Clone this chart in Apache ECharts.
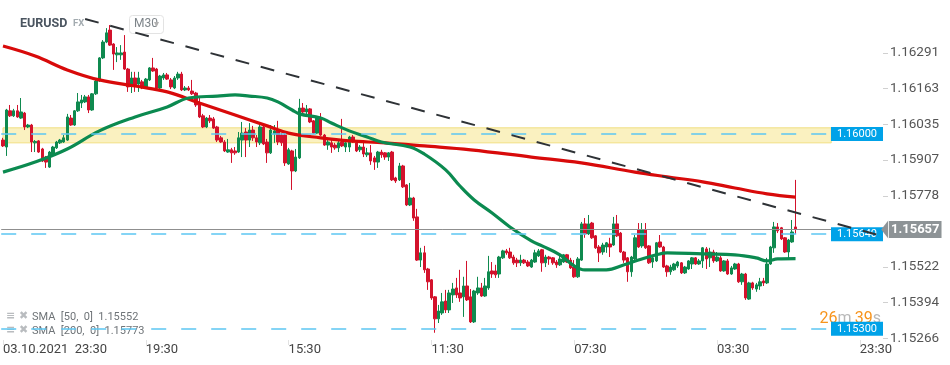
<!DOCTYPE html>
<html><head><meta charset="utf-8">
<script src="https://cdn.jsdelivr.net/npm/echarts@6/dist/echarts.min.js"></script>
<style>html,body{margin:0;padding:0;background:#fff}#c{width:950px;height:365px}</style>
</head><body><div id="c"></div>
<script>
// ---- data ----
const tickLabels = ['03.10.2021  23:30', '19:30', '15:30', '11:30', '07:30', '03:30', '23:30'];
const tickIndex = [0, 40, 80, 120, 160, 200, 240];
const categoryCount = 247;
const yTicks = [1.15266, 1.15394, 1.15522, 1.15778, 1.15907, 1.16035, 1.16163, 1.16291];
const yMin = 1.15260, yMax = 1.16481;

// [open, close, low, high]
const candles = [
[1.15978,1.15957,1.15953,1.15986],[1.15953,1.16086,1.15921,1.16090],[1.16083,1.16065,1.16061,1.16104],[1.16065,1.16083,1.16061,1.16090],
[1.16083,1.16061,1.16058,1.16104],[1.16057,1.16079,1.16054,1.16129],[1.16075,1.16025,1.16014,1.16079],[1.16025,1.16032,1.16021,1.16036],
[1.16032,1.15971,1.15935,1.16036],[1.15968,1.15973,1.15935,1.15978],[1.15975,1.15935,1.15932,1.15978],[1.15946,1.15903,1.15899,1.15950],
[1.15917,1.15899,1.15878,1.15921],[1.15881,1.15935,1.15878,1.15939],[1.15925,1.15953,1.15921,1.15957],[1.15950,1.15971,1.15946,1.15975],
[1.15968,1.15978,1.15964,1.15982],[1.15971,1.15986,1.15968,1.15996],[1.15978,1.16061,1.15975,1.16072],[1.16057,1.16032,1.16029,1.16068],
[1.16032,1.16083,1.16029,1.16086],[1.16083,1.16115,1.16079,1.16147],[1.16111,1.16122,1.16093,1.16140],[1.16115,1.16133,1.16111,1.16140],
[1.16133,1.16086,1.16075,1.16140],[1.16086,1.16144,1.16083,1.16147],[1.16144,1.16190,1.16140,1.16194],[1.16190,1.16273,1.16187,1.16276],
[1.16273,1.16330,1.16269,1.16337],[1.16330,1.16363,1.16326,1.16380],[1.16373,1.16319,1.16316,1.16391],[1.16323,1.16287,1.16230,1.16326],
[1.16284,1.16291,1.16258,1.16312],[1.16284,1.16291,1.16266,1.16319],[1.16294,1.16233,1.16230,1.16355],[1.16233,1.16169,1.16151,1.16237],
[1.16176,1.16201,1.16147,1.16223],[1.16201,1.16176,1.16151,1.16223],[1.16179,1.16201,1.16151,1.16223],[1.16187,1.16165,1.16161,1.16194],
[1.16169,1.16197,1.16165,1.16201],[1.16194,1.16237,1.16190,1.16240],[1.16237,1.16226,1.16223,1.16273],[1.16233,1.16165,1.16161,1.16237],
[1.16165,1.16208,1.16161,1.16212],[1.16201,1.16212,1.16194,1.16219],[1.16212,1.16197,1.16194,1.16219],[1.16194,1.16169,1.16161,1.16201],
[1.16165,1.16201,1.16161,1.16208],[1.16201,1.16215,1.16194,1.16223],[1.16215,1.16158,1.16154,1.16223],[1.16158,1.16165,1.16154,1.16172],
[1.16165,1.16158,1.16154,1.16172],[1.16154,1.16144,1.16140,1.16194],[1.16147,1.16104,1.16097,1.16151],[1.16111,1.16061,1.16057,1.16129],
[1.16065,1.16025,1.16021,1.16072],[1.16025,1.16057,1.16021,1.16061],[1.16057,1.16047,1.16039,1.16068],[1.16054,1.16021,1.16018,1.16061],
[1.16025,1.15978,1.15971,1.16029],[1.15986,1.15971,1.15968,1.15993],[1.15971,1.15939,1.15935,1.15978],[1.15935,1.15943,1.15932,1.15982],
[1.15943,1.15932,1.15896,1.15950],[1.15939,1.15932,1.15925,1.15953],[1.15935,1.15986,1.15932,1.16007],[1.15978,1.16003,1.15917,1.16043],
[1.16007,1.15978,1.15917,1.16021],[1.15978,1.16014,1.15953,1.16039],[1.16014,1.15986,1.15975,1.16029],[1.15986,1.15971,1.15953,1.15996],
[1.15968,1.16025,1.15960,1.16036],[1.16025,1.15964,1.15960,1.16039],[1.15971,1.15932,1.15896,1.15982],[1.15932,1.16014,1.15928,1.16032],
[1.16000,1.16011,1.15968,1.16032],[1.16014,1.15971,1.15960,1.16047],[1.15996,1.15968,1.15957,1.16003],[1.15996,1.15896,1.15885,1.16000],
[1.15892,1.15943,1.15889,1.15950],[1.15939,1.15867,1.15799,1.15943],[1.15867,1.15917,1.15863,1.15946],[1.15914,1.16093,1.15910,1.16126],
[1.16093,1.16079,1.16075,1.16111],[1.16079,1.16090,1.16061,1.16104],[1.16090,1.16043,1.16039,1.16093],[1.16047,1.16003,1.16000,1.16050],
[1.16003,1.16057,1.16000,1.16061],[1.16057,1.15996,1.15993,1.16075],[1.15996,1.15960,1.15957,1.16000],[1.15960,1.15971,1.15943,1.15978],
[1.15968,1.15953,1.15932,1.15978],[1.15960,1.15950,1.15943,1.15968],[1.15950,1.15968,1.15935,1.15975],[1.15971,1.15957,1.15953,1.16054],
[1.15953,1.15968,1.15935,1.15975],[1.15953,1.15989,1.15935,1.15993],[1.15989,1.15971,1.15968,1.15996],[1.15968,1.15939,1.15935,1.15971],
[1.15943,1.15953,1.15935,1.15960],[1.15953,1.15928,1.15917,1.15968],[1.15925,1.15932,1.15917,1.15950],[1.15932,1.15903,1.15889,1.15960],
[1.15914,1.15899,1.15871,1.15921],[1.15899,1.15935,1.15878,1.15939],[1.15935,1.15925,1.15914,1.15943],[1.15932,1.15917,1.15907,1.15935],
[1.15917,1.15932,1.15903,1.15935],[1.15935,1.15835,1.15831,1.15939],[1.15842,1.15831,1.15824,1.15846],[1.15835,1.15885,1.15831,1.15896],
[1.15885,1.15810,1.15806,1.15889],[1.15817,1.15745,1.15741,1.15820],[1.15745,1.15770,1.15741,1.15824],[1.15770,1.15698,1.15688,1.15774],
[1.15702,1.15547,1.15544,1.15731],[1.15547,1.15573,1.15522,1.15591],[1.15573,1.15512,1.15501,1.15598],[1.15515,1.15469,1.15440,1.15519],
[1.15476,1.15411,1.15404,1.15479],[1.15415,1.15336,1.15286,1.15418],[1.15336,1.15364,1.15321,1.15386],[1.15357,1.15397,1.15350,1.15429],
[1.15400,1.15368,1.15357,1.15440],[1.15368,1.15429,1.15357,1.15440],[1.15422,1.15443,1.15393,1.15465],[1.15447,1.15422,1.15411,1.15483],
[1.15429,1.15411,1.15397,1.15512],[1.15415,1.15454,1.15343,1.15487],[1.15454,1.15404,1.15400,1.15544],[1.15415,1.15325,1.15321,1.15443],
[1.15325,1.15436,1.15321,1.15440],[1.15429,1.15447,1.15422,1.15487],[1.15447,1.15418,1.15415,1.15465],[1.15418,1.15454,1.15415,1.15483],
[1.15447,1.15505,1.15440,1.15562],[1.15508,1.15497,1.15483,1.15540],[1.15508,1.15494,1.15483,1.15530],[1.15497,1.15558,1.15483,1.15562],
[1.15555,1.15580,1.15551,1.15584],[1.15580,1.15573,1.15566,1.15587],[1.15576,1.15555,1.15551,1.15591],[1.15558,1.15537,1.15530,1.15566],
[1.15547,1.15537,1.15522,1.15555],[1.15537,1.15547,1.15526,1.15566],[1.15547,1.15537,1.15533,1.15551],[1.15540,1.15526,1.15522,1.15547],
[1.15522,1.15547,1.15519,1.15551],[1.15540,1.15573,1.15537,1.15584],[1.15562,1.15580,1.15558,1.15587],[1.15584,1.15537,1.15505,1.15587],
[1.15537,1.15558,1.15522,1.15566],[1.15558,1.15551,1.15530,1.15562],[1.15555,1.15537,1.15530,1.15558],[1.15540,1.15530,1.15519,1.15547],
[1.15530,1.15551,1.15526,1.15562],[1.15540,1.15566,1.15537,1.15569],[1.15566,1.15540,1.15537,1.15569],[1.15547,1.15519,1.15515,1.15555],
[1.15522,1.15487,1.15483,1.15547],[1.15487,1.15551,1.15483,1.15558],[1.15547,1.15677,1.15544,1.15684],[1.15677,1.15641,1.15627,1.15698],
[1.15641,1.15677,1.15637,1.15709],[1.15680,1.15627,1.15623,1.15684],[1.15634,1.15591,1.15587,1.15637],[1.15594,1.15573,1.15540,1.15601],
[1.15576,1.15601,1.15566,1.15609],[1.15594,1.15609,1.15573,1.15612],[1.15605,1.15594,1.15558,1.15627],[1.15601,1.15677,1.15598,1.15702],
[1.15677,1.15634,1.15630,1.15709],[1.15644,1.15576,1.15573,1.15648],[1.15576,1.15547,1.15537,1.15580],[1.15555,1.15505,1.15469,1.15558],
[1.15505,1.15558,1.15487,1.15562],[1.15551,1.15627,1.15544,1.15637],[1.15655,1.15594,1.15591,1.15680],[1.15598,1.15655,1.15591,1.15680],
[1.15655,1.15591,1.15587,1.15680],[1.15598,1.15537,1.15533,1.15601],[1.15540,1.15555,1.15519,1.15562],[1.15544,1.15609,1.15540,1.15612],
[1.15612,1.15594,1.15591,1.15637],[1.15594,1.15522,1.15519,1.15598],[1.15526,1.15505,1.15487,1.15530],[1.15505,1.15522,1.15494,1.15530],
[1.15512,1.15533,1.15508,1.15537],[1.15526,1.15540,1.15519,1.15544],[1.15537,1.15501,1.15497,1.15540],[1.15501,1.15522,1.15497,1.15526],
[1.15515,1.15544,1.15512,1.15547],[1.15533,1.15555,1.15515,1.15558],[1.15555,1.15533,1.15530,1.15558],[1.15533,1.15544,1.15530,1.15551],
[1.15544,1.15591,1.15519,1.15594],[1.15587,1.15551,1.15515,1.15594],[1.15555,1.15576,1.15522,1.15591],[1.15576,1.15544,1.15537,1.15584],
[1.15544,1.15558,1.15540,1.15576],[1.15555,1.15508,1.15505,1.15562],[1.15508,1.15544,1.15505,1.15547],[1.15544,1.15497,1.15494,1.15551],
[1.15497,1.15519,1.15494,1.15526],[1.15515,1.15533,1.15512,1.15537],[1.15533,1.15469,1.15465,1.15537],[1.15469,1.15497,1.15458,1.15501],
[1.15497,1.15411,1.15404,1.15501],[1.15407,1.15465,1.15404,1.15469],[1.15465,1.15447,1.15440,1.15469],[1.15443,1.15458,1.15433,1.15465],
[1.15454,1.15469,1.15440,1.15483],[1.15472,1.15465,1.15454,1.15483],[1.15465,1.15533,1.15461,1.15555],[1.15533,1.15594,1.15530,1.15598],
[1.15591,1.15666,1.15573,1.15684],[1.15666,1.15652,1.15644,1.15680],[1.15663,1.15623,1.15619,1.15666],[1.15627,1.15576,1.15573,1.15630],
[1.15576,1.15619,1.15551,1.15623],[1.15612,1.15648,1.15609,1.15691],[1.15666,1.15657,1.15641,1.15835]
];

// moving averages: [bar index, value]
const sma50 = [[0,1.15863],[9,1.15899],[18,1.15946],[27,1.16011],[37,1.16061],[46,1.16097],[52,1.16129],[60,1.16136],[65,1.16140],[69,1.16136],
[74,1.16129],[77,1.16115],[81,1.16086],[83,1.16072],[89,1.16057],[92,1.16039],[97,1.16011],[102,1.15989],[106,1.15971],[114,1.15953],[118,1.15928],
[124,1.15871],[128,1.15813],[132,1.15763],[137,1.15716],[142,1.15666],[148,1.15616],[151,1.15598],[156,1.15566],[160,1.15526],[163,1.15512],
[169,1.15512],[174,1.15530],[178,1.15547],[183,1.15566],[186,1.15573],[196,1.15569],[205,1.15566],[211,1.15555],[214,1.15544],[217,1.15551],[222,1.15552]];
const sma200 = [[0,1.16316],[9,1.16280],[18,1.16230],[27,1.16194],[37,1.16172],[46,1.16151],[55,1.16111],[65,1.16068],[74,1.16029],[80,1.16003],
[89,1.15986],[97,1.15975],[107,1.15968],[118,1.15957],[131,1.15943],[148,1.15917],[162,1.15896],[177,1.15863],[186,1.15846],[196,1.15828],
[205,1.15806],[214,1.15785],[222,1.15773]];
const trendLine = [[23,1.16413],[246,1.15634]];
const zoneBand = [1.15968, 1.16022];
const zoneLevel = 1.16000;
const levels = [1.15640, 1.15300];
const lastPrice = 1.15657;
const sma50Last = '1.15552', sma200Last = '1.15773';

// ---- chart ----
const categories = [];
for (let i = 0; i < categoryCount; i++) categories.push(String(i));
const showTick = (i) => tickIndex.indexOf(i) >= 0;
const FONT = 'Roboto, "Open Sans", sans-serif';
const BLUE = '#00a2e8';
const blueLine = { color: '#5cc6f2', type: [15, 15], width: 1.5 };
const blueLabel = {
  show: true, position: 'insideEnd', distance: 0, formatter: (p) => Number(p.value).toFixed(5),
  backgroundColor: BLUE, color: '#fff', fontSize: 11, fontFamily: FONT, padding: [2, 6, 1, 6]
};

const levelItems = [zoneLevel].concat(levels).map(v => ({ yAxis: v, lineStyle: blueLine, label: blueLabel }));
levelItems.push({
  yAxis: lastPrice,
  lineStyle: { color: '#8f8f8f', type: 'solid', width: 1 },
  label: {
    show: true, position: 'end', distance: 6, formatter: (p) => Number(p.value).toFixed(5),
    backgroundColor: '#8d9396', color: '#fff', fontSize: 13, fontWeight: 'bold', fontFamily: FONT,
    padding: [2, 2, 1, 2], lineHeight: 14
  }
});

const chart = echarts.init(document.getElementById('c'), null, { renderer: 'canvas' });
chart.setOption({
  animation: false,
  backgroundColor: '#fff',
  grid: { left: 0, right: 67, top: 0, bottom: 25 },
  xAxis: {
    type: 'category', data: categories, boundaryGap: true,
    axisLine: { show: false },
    axisTick: { show: true, interval: (i) => showTick(i), alignWithLabel: true, length: 5, lineStyle: { color: '#e2e2e2' } },
    axisLabel: {
      interval: (i) => showTick(i), align: 'left', margin: 3, color: '#444', fontSize: 13, fontFamily: FONT,
      formatter: (v, i) => tickLabels[tickIndex.indexOf(i)] || ''
    },
    splitLine: { show: false }
  },
  yAxis: {
    type: 'value', position: 'right', min: yMin, max: yMax, scale: true,
    axisLine: { show: false },
    axisTick: { show: true, customValues: yTicks, length: 5, lineStyle: { color: '#d0d0d0' } },
    axisLabel: { customValues: yTicks, formatter: (v) => v.toFixed(5), color: '#555', fontSize: 13.5, fontFamily: FONT, margin: 7 },
    splitLine: { show: false }
  },
  series: [
    {
      name: 'EURUSD', type: 'candlestick', data: candles, z: 2, barWidth: 3,
      itemStyle: { color: '#0f8a4f', color0: '#d3122c', borderColor: '#0f8a4f', borderColor0: '#d3122c', borderWidth: 1 },
      markLine: { silent: true, symbol: 'none', animation: false, precision: 5, data: levelItems }
    },
    {
      name: 'SMA 200', type: 'line', data: sma200, smooth: 0.4, showSymbol: false, z: 3,
      lineStyle: { color: '#d80a0a', width: 3.2 }
    },
    {
      name: 'SMA 50', type: 'line', data: sma50, smooth: 0.4, showSymbol: false, z: 3,
      lineStyle: { color: '#0b8a50', width: 3.2 }
    },
    {
      name: 'zone', type: 'line', data: [], z: 5, silent: true,
      markArea: {
        silent: true,
        itemStyle: { color: 'rgba(246,232,150,0.6)', borderColor: 'rgba(238,220,120,0.9)', borderWidth: 1 },
        data: [[{ xAxis: 0, yAxis: zoneBand[1] }, { xAxis: 232, yAxis: zoneBand[0] }]]
      }
    },
    {
      name: 'trend', type: 'line', data: trendLine, showSymbol: false, z: 7, silent: true,
      lineStyle: { color: '#2e3236', width: 2, type: [14, 12] }
    }
  ],
  graphic: [
    { type: 'text', left: 20, top: 17, style: { text: 'EURUSD', fill: '#4b5560', font: 'bold 12.5px ' + FONT } },
    { type: 'text', left: 73, top: 19, style: { text: 'FX', fill: '#a3abb0', font: 'bold 9.5px ' + FONT } },
    { type: 'rect', left: 129, top: 15, shape: { width: 34, height: 18, r: 3 }, style: { fill: '#fff', stroke: '#e3e3e3', lineWidth: 1 } },
    { type: 'text', left: 134, top: 18, style: { text: 'M30', fill: '#7d8489', font: '12px ' + FONT } },
    { type: 'text', left: 154, top: 19, style: { text: '▾', fill: '#b0b0b0', font: '10px DejaVu Sans' } },
    { type: 'text', left: 6, top: 311, style: { text: '≡ ✖', fill: '#b9bcbf', font: 'bold 11px DejaVu Sans' } },
    { type: 'text', left: 32, top: 312, style: { text: 'SMA  [50,  0]  ' + sma50Last, fill: '#6f7478', font: '11px ' + FONT } },
    { type: 'text', left: 6, top: 325, style: { text: '≡ ✖', fill: '#b9bcbf', font: 'bold 11px DejaVu Sans' } },
    { type: 'text', left: 32, top: 326, style: { text: 'SMA  [200,  0]  ' + sma200Last, fill: '#6f7478', font: '11px ' + FONT } },
    { type: 'text', right: 69, top: 311, style: {
        text: '{o|26}{g|m} {o|39}{g|s}',
        rich: { o: { fill: '#f7941d', fontSize: 16, fontFamily: FONT }, g: { fill: '#b8b8b8', fontSize: 16, fontFamily: FONT } }
    } }
  ]
});

// arrow of the last-price tag, placed with the chart's own scales
const tipX = chart.convertToPixel({ xAxisIndex: 0 }, categoryCount - 1);
const tipY = chart.convertToPixel({ yAxisIndex: 0 }, lastPrice);
chart.setOption({
  graphic: [{ type: 'polygon', id: 'arrow', shape: { points: [[tipX, tipY], [tipX + 7, tipY - 9], [tipX + 7, tipY + 9]] }, style: { fill: '#8d9396' }, z: 10 }]
});
</script>
</body></html>
